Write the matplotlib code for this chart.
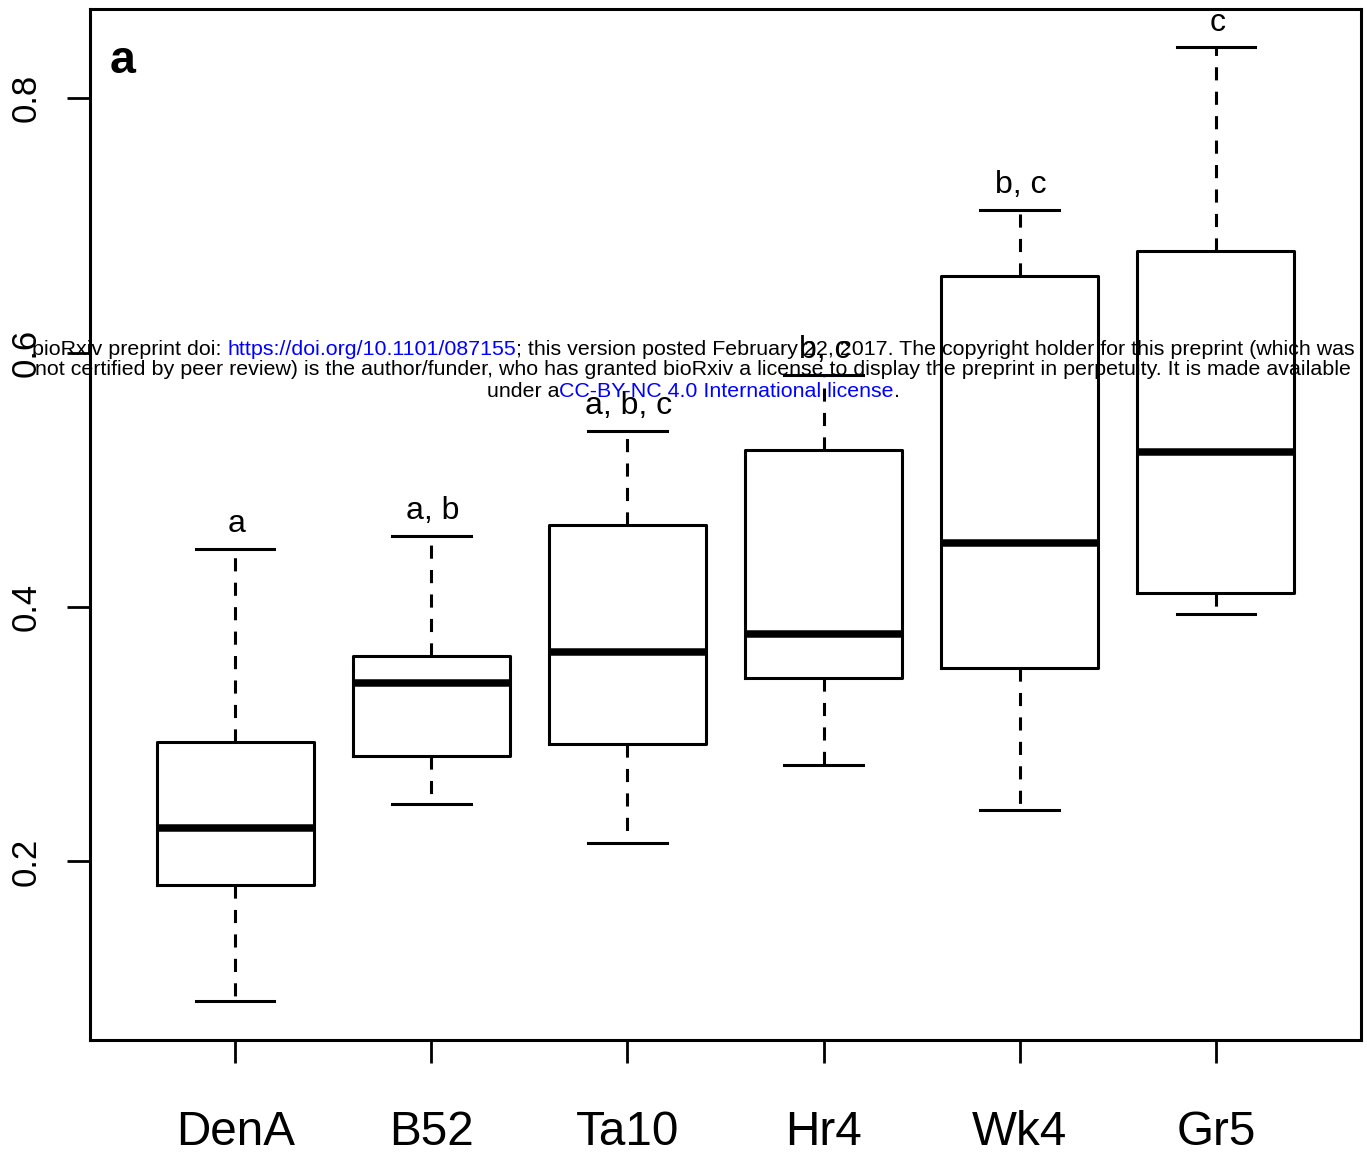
import matplotlib
matplotlib.use("Agg")
import matplotlib.pyplot as plt

plt.rcParams["font.family"] = ["Liberation Sans", "DejaVu Sans"]

# Boxplot summary values
groups = ["DenA", "B52", "Ta10", "Hr4", "Wk4", "Gr5"]
whisker_low = [0.090, 0.245, 0.2145, 0.276, 0.2405, 0.3945]
q1 = [0.1815, 0.283, 0.292, 0.344, 0.352, 0.411]
median = [0.2263, 0.340, 0.365, 0.379, 0.450, 0.522]
q3 = [0.294, 0.3615, 0.4644, 0.5234, 0.660, 0.680]
whisker_high = [0.4456, 0.4558, 0.5383, 0.5823, 0.712, 0.840]
letters = ["a", "a, b", "a, b, c", "b, c", "b, c", "c"]

yticks = [0.2, 0.4, 0.6, 0.8]

W, H, DPI = 1367, 1157, 100
fig = plt.figure(figsize=(W / DPI, H / DPI), dpi=DPI)
ax = fig.add_axes([90 / W, 1 - 1040 / H, (1361 - 90) / W, (1040 - 9) / H])

stats = []
for i, g in enumerate(groups):
    stats.append(dict(med=median[i], q1=q1[i], q3=q3[i],
                      whislo=whisker_low[i], whishi=whisker_high[i],
                      fliers=[], label=g))

lw = 2.2
ax.bxp(stats, positions=range(1, len(groups) + 1), widths=0.8, capwidths=0.4,
       showfliers=False,
       boxprops=dict(color="black", linewidth=lw),
       medianprops=dict(color="black", linewidth=5.4, solid_capstyle="butt"),
       whiskerprops=dict(color="black", linewidth=lw, linestyle=(0, (4.3, 3.7))),
       capprops=dict(color="black", linewidth=lw))

# significance letters above the whiskers
for i, lab in enumerate(letters):
    ax.annotate(lab, (i + 1, whisker_high[i]), xytext=(1, 12),
                textcoords="offset points", ha="center", va="baseline",
                fontsize=23)

ax.set_xlim(0.26, 6.74)
ax.set_ylim(0.0597, 0.870)
ax.set_xticks(range(1, len(groups) + 1))
ax.set_xticklabels(groups, fontsize=34.3)
ax.set_yticks(yticks)
ax.set_yticklabels([f"{v:.1f}" for v in yticks], fontsize=25, rotation=90,
                   va="center")
ax.tick_params(direction="out", length=16.5, width=2.0, color="black")
ax.tick_params(axis="x", pad=34)
ax.tick_params(axis="y", pad=17.5)
for s in ax.spines.values():
    s.set_linewidth(2.2)

ax.text(0.0157, 0.938, "a", transform=ax.transAxes, fontsize=33.5,
        fontweight="bold", ha="left", va="baseline")

# bioRxiv watermark drawn over the plot
blue = "#0000ff"
wm_lines = [
    [("bioRxiv preprint doi: ", "black"),
     ("https://doi.org/10.1101/087155", blue),
     ("; this version posted February 22, 2017. The copyright holder for this preprint (which was", "black")],
    [("not certified by peer review) is the author/funder, who has granted bioRxiv a license to display the preprint in perpetuity. It is made available", "black")],
    [("under a", "black"), ("CC-BY-NC 4.0 International license", blue), (".", "black")],
]
wm_y = [349, 370, 391]
renderer = fig.canvas.get_renderer()
for segs, yp in zip(wm_lines, wm_y):
    texts = [fig.text(0, 1 - yp / H, s, color=c, fontsize=15.4, ha="left",
                      va="center", zorder=10) for s, c in segs]
    widths = [t.get_window_extent(renderer).width for t in texts]
    x = 693 - sum(widths) / 2
    for t, w in zip(texts, widths):
        t.set_x(x / W)
        x += w

fig.savefig("out.png", dpi=DPI)
